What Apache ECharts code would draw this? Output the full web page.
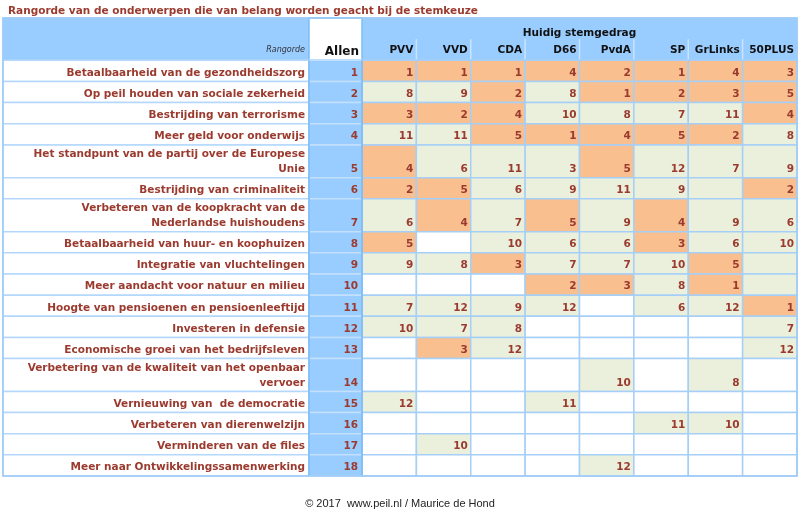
<!DOCTYPE html>
<html><head><meta charset="utf-8">
<script src="https://cdn.jsdelivr.net/npm/echarts@6/dist/echarts.min.js"></script>
<style>html,body{margin:0;padding:0;background:#fff}#c{width:800px;height:513px}</style>
</head><body><div id="c"></div><script>
// ---------- DATA ----------
const titleText = 'Rangorde van de onderwerpen die van belang worden geacht bij de stemkeuze';
const groupTitle = 'Huidig stemgedrag';
const rankHeader = 'Rangorde';
const allHeader = 'Allen';
const footerText = '© 2017  www.peil.nl / Maurice de Hond';
const parties = ['PVV','VVD','CDA','D66','PvdA','SP','GrLinks','50PLUS'];
const topics = [
  'Betaalbaarheid van de gezondheidszorg',
  'Op peil houden van sociale zekerheid',
  'Bestrijding van terrorisme',
  'Meer geld voor onderwijs',
  'Het standpunt van de partij over de Europese\nUnie',
  'Bestrijding van criminaliteit',
  'Verbeteren van de koopkracht van de\nNederlandse huishoudens',
  'Betaalbaarheid van huur- en koophuizen',
  'Integratie van vluchtelingen',
  'Meer aandacht voor natuur en milieu',
  'Hoogte van pensioenen en pensioenleeftijd',
  'Investeren in defensie',
  'Economische groei van het bedrijfsleven',
  'Verbetering van de kwaliteit van het openbaar\nvervoer',
  'Vernieuwing van  de democratie',
  'Verbeteren van dierenwelzijn',
  'Verminderen van de files',
  'Meer naar Ontwikkelingssamenwerking'
];
const allenRank = [1,2,3,4,5,6,7,8,9,10,11,12,13,14,15,16,17,18];
const PVV     = [1,8,3,11,4,2,6,5,9,null,7,10,null,null,12,null,null,null];
const VVD     = [1,9,2,11,6,5,4,null,8,null,12,7,3,null,null,null,10,null];
const CDA     = [1,2,4,5,11,6,7,10,3,null,9,8,12,null,null,null,null,null];
const D66     = [4,8,10,1,3,9,5,6,7,2,12,null,null,null,11,null,null,null];
const PvdA    = [2,1,8,4,5,11,9,6,7,3,null,null,null,10,null,null,null,12];
const SP      = [1,2,7,5,12,9,4,3,10,8,6,null,null,null,null,11,null,null];
const GrLinks = [4,3,11,2,7,null,9,6,5,1,12,null,null,8,null,10,null,null];
const PLUS50  = [3,5,4,8,9,2,6,10,null,null,1,7,12,null,null,null,null,null];
// highlight per cell: o = top (highlighted), g = listed, - = not listed
const mPVV     = 'ogogoogog-gg--g---';
const mVVD     = 'ogoggoo-g-ggo---g-';
const mCDA     = 'ooooggggo-ggg-----';
const mD66     = 'oggoggoggog---g---';
const mPvdA    = 'oogooggggo---g---g';
const mSP      = 'oogoggooggg----g--';
const mGrLinks = 'oogoggggoog--g-g--';
const mPLUS50  = 'oooggoggggogg-----';

// ---------- LAYOUT / STYLE ----------
const partyValues = [PVV,VVD,CDA,D66,PvdA,SP,GrLinks,PLUS50];
const partyMarks = [mPVV,mVVD,mCDA,mD66,mPvdA,mSP,mGrLinks,mPLUS50];
const RED = '#9b3a2e';
const BLUE = '#99ccff';
const ORANGE = '#f9bf8f';
const GREEN = '#ebf0dd';
const GRID = '#a6cff8';
const FONT = '"DejaVu Sans", Verdana, sans-serif';
const FS = 10.5;
const COLW = [306, 53, 54.375,54.375,54.375,54.375,54.375,54.375,54.375,54.375];
const xEdges = [0]; COLW.forEach(w => xEdges.push(xEdges[xEdges.length-1] + w));
const HEADER_U = 2, SINGLE_U = 1, DOUBLE_U = 1.55;
const yEdges = [0, HEADER_U];
topics.forEach(t => yEdges.push(yEdges[yEdges.length-1] + (t.indexOf('\n') >= 0 ? DOUBLE_U : SINGLE_U)));
const XMAX = xEdges[xEdges.length-1], YMAX = yEdges[yEdges.length-1];

const cells = [];
cells.push({kind:'hdr'});
topics.forEach((t, r) => {
  cells.push({kind:'label', r, text:t});
  cells.push({kind:'allen', r, text:String(allenRank[r])});
  parties.forEach((p, k) => {
    cells.push({kind:'party', r, c:k+2, v:partyValues[k][r], m:partyMarks[k][r]});
  });
});
cells.push({kind:'overlay'});

function renderItem(params, api) {
  const cell = cells[params.dataIndex];
  function box(c0, c1, r0, r1) {
    const p0 = api.coord([xEdges[c0], yEdges[r0]]);
    const p1 = api.coord([xEdges[c1], yEdges[r1]]);
    return {x:p0[0], y:p0[1], w:p1[0]-p0[0], h:p1[1]-p0[1]};
  }
  function txt(text, x, y, opt) {
    return {type:'text', style:Object.assign({text, x, y, align:'right', verticalAlign:'bottom',
      fill:RED, font:'bold ' + FS + 'px ' + FONT, lineHeight:15}, opt || {})};
  }
  const children = [];
  if (cell.kind === 'hdr') {
    const b = box(0, 10, 0, 1);
    children.push({type:'rect', shape:{x:b.x, y:b.y, width:b.w, height:b.h}, style:{fill:BLUE, stroke:GRID, lineWidth:1.5}});
    const a = box(1, 2, 0, 1);
    children.push({type:'rect', shape:{x:a.x, y:a.y, width:a.w, height:a.h}, style:{fill:'#fff', stroke:'#7dbdf7', lineWidth:1.5}});
    children.push(txt(allHeader, a.x + a.w - 3, a.y + a.h - 1, {fill:'#111', font:'bold 12px ' + FONT}));
    const l = box(0, 1, 0, 1);
    children.push(txt(rankHeader, l.x + l.w - 4, l.y + l.h - 3, {fill:'#333', font:'italic 8px ' + FONT}));
    const g = box(2, 10, 0, 1);
    children.push({type:'text', style:{text:groupTitle, x:g.x + g.w/2, y:g.y + 15, align:'center', verticalAlign:'middle',
      fill:'#111', font:'bold ' + FS + 'px ' + FONT}});
    parties.forEach((p, k) => {
      const pb = box(k+2, k+3, 0, 1);
      if (k > 0) children.push({type:'line', shape:{x1:pb.x, y1:pb.y + pb.h*0.5, x2:pb.x, y2:pb.y + pb.h}, style:{stroke:'#c9e4fd', lineWidth:1.5}});
      children.push(txt(p, pb.x + pb.w - 3, pb.y + pb.h - 3, {fill:'#111'}));
    });
  } else if (cell.kind === 'label') {
    const b = box(0, 1, cell.r+1, cell.r+2);
    children.push({type:'rect', shape:{x:b.x, y:b.y, width:b.w, height:b.h}, style:{fill:'#fff', stroke:'#b4d8fb', lineWidth:1.5}});
    children.push(txt(cell.text, b.x + b.w - 4, b.y + b.h - 1));
  } else if (cell.kind === 'allen') {
    const b = box(1, 2, cell.r+1, cell.r+2);
    children.push({type:'rect', shape:{x:b.x, y:b.y, width:b.w, height:b.h}, style:{fill:BLUE, stroke:'#c3e0fc', lineWidth:1.5}});
    children.push(txt(cell.text, b.x + b.w - 4, b.y + b.h - 1));
  } else if (cell.kind === 'party') {
    const b = box(cell.c, cell.c+1, cell.r+1, cell.r+2);
    const fill = cell.m === 'o' ? ORANGE : (cell.m === 'g' ? GREEN : '#fff');
    children.push({type:'rect', shape:{x:b.x, y:b.y, width:b.w, height:b.h}, style:{fill, stroke:GRID, lineWidth:1.5}});
    if (cell.v != null) children.push(txt(String(cell.v), b.x + b.w - 3, b.y + b.h - 1));
  } else if (cell.kind === 'overlay') {
    const a = box(1, 2, 1, yEdges.length-1);
    children.push({type:'line', shape:{x1:a.x, y1:a.y, x2:a.x, y2:a.y+a.h}, style:{stroke:'#74b9f7', lineWidth:1.5}});
    children.push({type:'line', shape:{x1:a.x+a.w, y1:a.y, x2:a.x+a.w, y2:a.y+a.h}, style:{stroke:'#74b9f7', lineWidth:1.5}});
    const t = box(0, 10, 0, yEdges.length-1);
    children.push({type:'rect', shape:{x:t.x, y:t.y, width:t.w, height:t.h}, style:{fill:null, stroke:'#9fcbf7', lineWidth:1.5}});
  }
  return {type:'group', children};
}

const chart = echarts.init(document.getElementById('c'), null, {renderer:'canvas'});
chart.setOption({
  animation:false,
  title:[
    {text:titleText, left:3, top:1, textStyle:{fontFamily:FONT, fontSize:FS, fontWeight:'bold', color:RED}},
    {text:footerText, left:'center', top:493, textStyle:{fontFamily:'"Liberation Sans", Arial, sans-serif', fontSize:11, fontWeight:'normal', color:'#222'}}
  ],
  grid:{left:3, right:3, top:18, bottom:37},
  xAxis:{type:'value', min:0, max:XMAX, show:false},
  yAxis:{type:'value', min:0, max:YMAX, inverse:true, show:false},
  series:[{type:'custom', renderItem, clip:false, data:cells.map((c, i) => [0, 0, i])}]
});
</script></body></html>
